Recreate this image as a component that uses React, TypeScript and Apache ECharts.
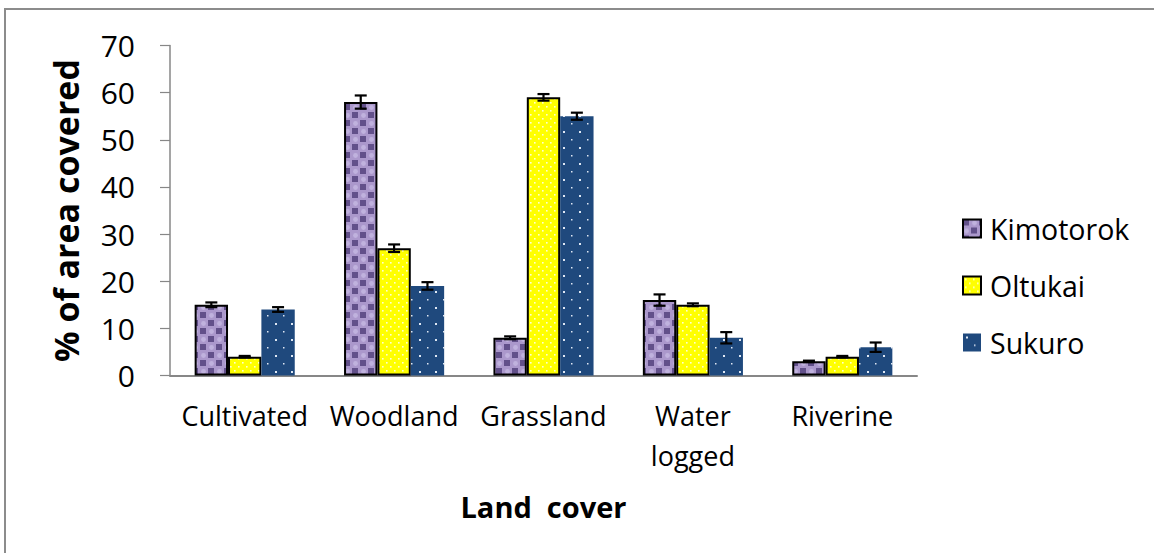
import React, { useEffect, useRef } from "react";
import * as echarts from "echarts";

const categories = ["Cultivated", "Woodland", "Grassland", "Water\nlogged", "Riverine"];
const seriesNames = ["Kimotorok", "Oltukai", "Sukuro"];
const kimotorok = [15, 58, 8, 16, 3];
const oltukai = [4, 27, 59, 15, 4];
const sukuro = [14, 19, 55, 8, 6];
const errKimotorok = [0.5, 1.4, 0.3, 1.2, 0.15];
const errOltukai = [0.15, 0.8, 0.7, 0.3, 0.15];
const errSukuro = [0.5, 0.8, 0.75, 1.2, 1.0];
const yTicks = [0, 10, 20, 30, 40, 50, 60, 70];

const FONT = "'Open Sans', 'Noto Sans', sans-serif";

function makePattern(kind: string) {
  const size = 16;
  const c = document.createElement("canvas");
  c.width = size;
  c.height = size;
  const g = c.getContext("2d")!;
  if (kind === "k") {
    g.fillStyle = "#ab98cc";
    g.fillRect(0, 0, size, size);
    g.fillStyle = "#62508a";
    g.fillRect(0, 0, 6, 6);
    g.fillRect(8, 8, 6, 6);
    g.fillStyle = "#c0b2de";
    g.beginPath();
    g.arc(11.5, 3.5, 2.4, 0, Math.PI * 2);
    g.fill();
    g.beginPath();
    g.arc(3.5, 11.5, 2.4, 0, Math.PI * 2);
    g.fill();
  } else if (kind === "o") {
    g.fillStyle = "#ffff00";
    g.fillRect(0, 0, size, size);
    g.fillStyle = "#ffffd0";
    const pts = [[2, 2], [10, 2], [6, 6], [14, 6], [2, 10], [10, 10], [6, 14], [14, 14]];
    pts.forEach(([x, y]) => g.fillRect(x, y, 1.6, 1.6));
  } else {
    g.fillStyle = "#1f497d";
    g.fillRect(0, 0, size, size);
    g.fillStyle = "#dfe8f4";
    g.fillRect(3, 3, 2, 2);
    g.fillRect(11, 11, 1.5, 1.5);
  }
  return { image: c, repeat: "repeat", imageWidth: size, imageHeight: size } as any;
}

export default function App() {
  const ref = useRef<HTMLDivElement>(null);
  useEffect(() => {
    if (!ref.current) return;
    const chart = echarts.init(ref.current, null, { renderer: "svg" });
    const values = [kimotorok, oltukai, sukuro];
    const errs = [errKimotorok, errOltukai, errSukuro];
    const patterns = [makePattern("k"), makePattern("o"), makePattern("s")];
    const borders = [
      { borderColor: "#000", borderWidth: 2 },
      { borderColor: "#000", borderWidth: 2 },
      { borderColor: "#1f497d", borderWidth: 0 },
    ];
    const errData: number[][] = [];
    errs.forEach((arr, s) =>
      arr.forEach((e, i) => errData.push([i, values[s][i] - e, values[s][i] + e, s]))
    );
    const gapFrac = 0.33;

    const option: any = {
      animation: false,
      backgroundColor: "#fff",
      graphic: [
        {
          type: "rect",
          shape: { x: 5, y: 9, width: 1170, height: 570 },
          style: { fill: "none", stroke: "#8c8c8c", lineWidth: 2 },
          z: -1,
        },
      ],
      legend: {
        orient: "vertical",
        left: 962,
        top: 214,
        padding: 0,
        itemWidth: 18,
        itemHeight: 18,
        itemGap: 28,
        icon: "rect",
        data: seriesNames,
        textStyle: { fontSize: 28.5, fontFamily: FONT, color: "#000", padding: [0, 0, 0, 4] },
      },
      grid: { left: 170, top: 45.5, width: 747, height: 330, containLabel: false },
      xAxis: {
        type: "category",
        data: categories,
        axisLine: { lineStyle: { color: "#878787", width: 2 } },
        axisTick: { show: false },
        axisLabel: {
          fontSize: 27,
          fontFamily: FONT,
          color: "#000",
          lineHeight: 40,
          margin: 20,
          interval: 0,
        },
        name: "Land  cover",
        nameLocation: "middle",
        nameGap: 116,
        nameTextStyle: { fontSize: 29, fontWeight: "bold", fontFamily: FONT, color: "#000" },
      },
      yAxis: {
        type: "value",
        min: 0,
        max: 70,
        interval: 10,
        splitLine: { show: false },
        axisLine: { show: true, lineStyle: { color: "#878787", width: 1.5 } },
        axisTick: { show: true, length: 10, lineStyle: { color: "#878787", width: 1.2 } },
        axisLabel: {
          fontSize: 30,
          fontFamily: FONT,
          color: "#000",
          margin: 35,
          formatter: (v: number) => (yTicks.includes(v) ? String(v) : ""),
        },
        name: "% of area covered",
        nameLocation: "middle",
        nameRotate: 90,
        nameGap: 87,
        nameTextStyle: { fontSize: 34, fontWeight: "bold", fontFamily: FONT, color: "#000" },
      },
      series: [
        ...seriesNames.map((name, s) => ({
          name,
          type: "bar",
          data: values[s],
          barGap: "0%",
          barCategoryGap: "33%",
          itemStyle: { color: patterns[s], ...borders[s] },
          emphasis: { disabled: true },
        })),
        {
          type: "custom",
          data: errData,
          z: 10,
          silent: true,
          renderItem: (params: any, api: any) => {
            const cat = api.value(0);
            const lo = api.value(1);
            const hi = api.value(2);
            const s = api.value(3);
            const band = api.size([1, 0])[0];
            const bw = (band * (1 - gapFrac)) / 3;
            const cx = api.coord([cat, 0])[0] + (s - 1) * bw;
            const yHi = api.coord([cat, hi])[1];
            const yLo = api.coord([cat, lo])[1];
            const cap = 6;
            const st = { stroke: "#000", lineWidth: 2.2 };
            return {
              type: "group",
              children: [
                { type: "line", shape: { x1: cx, y1: yHi, x2: cx, y2: yLo }, style: st },
                { type: "line", shape: { x1: cx - cap, y1: yHi, x2: cx + cap, y2: yHi }, style: st },
                { type: "line", shape: { x1: cx - cap, y1: yLo, x2: cx + cap, y2: yLo }, style: st },
              ],
            };
          },
        },
      ],
    };
    chart.setOption(option);
    return () => chart.dispose();
  }, []);
  return (
    <div
      ref={ref}
      style={{ position: "fixed", left: 0, top: 0, width: 1154, height: 553 }}
    />
  );
}
